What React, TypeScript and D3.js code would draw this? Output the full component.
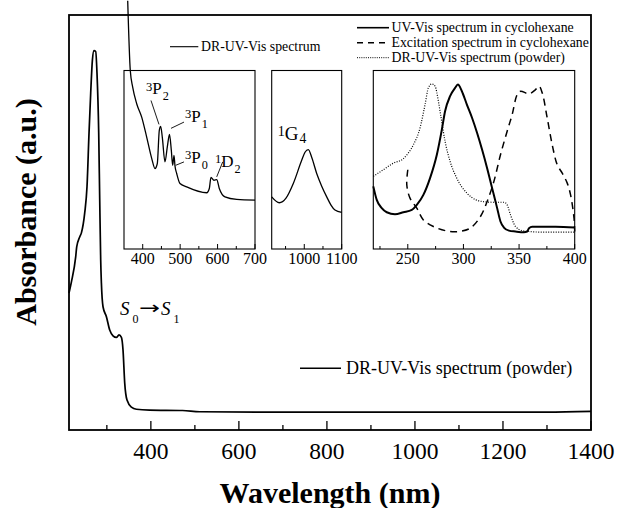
import React from 'react';
import * as d3 from 'd3';

// main curve: DR-UV-Vis spectrum of the powder, 214-1400 nm
const powderWl = [214, 219.5, 229.2, 231.5, 238.3, 242.2, 249.7, 254.9, 259.5, 263.3, 267.2, 270.8, 274.7, 277.6, 281.5, 283.8, 286, 287.6, 291.3, 299, 306.5, 314, 321.7, 327.6, 333.1, 336.7, 340.6, 345.8, 355.8, 367.2, 397, 472, 511, 700, 1000, 1300, 1400];
const powderAbs = [0.330, 0.357, 0.417, 0.441, 0.465, 0.475, 0.523, 0.586, 0.716, 0.812, 0.892, 0.914, 0.912, 0.860, 0.716, 0.554, 0.410, 0.354, 0.297, 0.273, 0.241, 0.227, 0.223, 0.229, 0.223, 0.193, 0.113, 0.072, 0.055, 0.050, 0.048, 0.047, 0.044, 0.043, 0.043, 0.043, 0.045];

// inset 1: visible region (f-f bands)
const visWl = [359.9, 366.8, 373.2, 383.9, 397.3, 410.6, 424, 432.8, 439, 444.3, 448, 452.3, 459.5, 465.7, 471.6, 476.4, 480.1, 483.6, 486.3, 490.8, 499.6, 517.5, 571, 577.9, 582.4, 590.4, 597.7, 604.6, 619.8, 651.1, 700];
const visAbs = [1.391, 1.0, 0.907, 0.814, 0.739, 0.627, 0.508, 0.451, 0.479, 0.665, 0.687, 0.627, 0.488, 0.572, 0.642, 0.553, 0.469, 0.525, 0.464, 0.423, 0.367, 0.348, 0.315, 0.339, 0.401, 0.385, 0.389, 0.339, 0.292, 0.278, 0.274];

// inset 2: near IR (1G4)
const nirWl = [913, 933.3, 951.2, 970.7, 993.1, 1002, 1010.8, 1020.7, 1033.2, 1046.6, 1060, 1071.4, 1082, 1100];
const nirAbs = [0.292, 0.259, 0.285, 0.367, 0.497, 0.542, 0.557, 0.508, 0.423, 0.352, 0.292, 0.246, 0.218, 0.205];

// inset 3: UV region, three spectra
const uvWl = [219, 222.1, 226.6, 231.1, 238.5, 246, 253.6, 258.1, 264, 270, 276.1, 280.6, 283.5, 288, 292.5, 295, 298.6, 303.1, 307.8, 312.3, 316.8, 321.3, 325.8, 330.3, 333.3, 336.4, 340.9, 346.8, 354.4, 357.3, 358.9, 361.8, 382.8, 400];
const uvAbs = [0.351, 0.275, 0.229, 0.206, 0.195, 0.206, 0.219, 0.247, 0.303, 0.397, 0.528, 0.669, 0.772, 0.856, 0.903, 0.921, 0.884, 0.809, 0.734, 0.650, 0.556, 0.453, 0.341, 0.229, 0.154, 0.120, 0.103, 0.098, 0.094, 0.098, 0.116, 0.124, 0.124, 0.120];

const excWl = [250, 249.1, 252, 258.1, 264, 273, 285.1, 295.5, 306, 315.3, 321.3, 327.4, 333.3, 339.3, 343.8, 348.3, 351.3, 358.9, 364.8, 367.9, 370.8, 375.3, 379.8, 384.3, 388.8, 393.3, 396.3, 399.4, 400];
const excInt = [0.444, 0.360, 0.285, 0.229, 0.163, 0.126, 0.101, 0.098, 0.116, 0.182, 0.266, 0.379, 0.528, 0.660, 0.753, 0.865, 0.884, 0.869, 0.893, 0.912, 0.875, 0.734, 0.584, 0.472, 0.425, 0.369, 0.303, 0.172, 0.098];

const drWl = [219, 228, 237, 246, 250.5, 255, 261, 265.5, 268.5, 271.6, 274.5, 277.5, 279.7, 283.5, 288, 294, 303.1, 311.4, 316.8, 325.8, 336.4, 339.3, 342.3, 346.8, 352.8, 358.9, 373.8, 400];
const drAbs = [0.407, 0.444, 0.481, 0.506, 0.538, 0.584, 0.678, 0.809, 0.903, 0.925, 0.912, 0.828, 0.744, 0.603, 0.491, 0.397, 0.313, 0.275, 0.266, 0.262, 0.262, 0.247, 0.191, 0.126, 0.103, 0.098, 0.094, 0.094];

const mainMajor = [400, 600, 800, 1000, 1200, 1400];
const mainMinor = [300, 500, 700, 900, 1100, 1300];

const legendItems = [
  { label: 'UV-Vis spectrum in cyclohexane', dash: 'none', width: 1.6 },
  { label: 'Excitation spectrum in cyclohexane', dash: '6,5', width: 1.6 },
  { label: 'DR-UV-Vis spectrum (powder)', dash: '1,1.2', width: 1 },
];

const FONT = "'Liberation Serif', 'Times New Roman', serif";

type Pt = [number, number];
const zip = (a: number[], b: number[]): Pt[] => a.map((v, i) => [v, b[i]]);

interface InsetProps {
  x0: number; x1: number; y0: number; y1: number;
  domain: [number, number];
  major: number[]; minor: number[];
  series: { pts: Pt[]; dash: string; width: number; curve: d3.CurveFactory }[];
  children?: (x: d3.ScaleLinear<number, number>, y: d3.ScaleLinear<number, number>) => React.ReactNode;
}

const Inset: React.FC<InsetProps> = ({ x0, x1, y0, y1, domain, major, minor, series, children }) => {
  const x = d3.scaleLinear().domain(domain).range([x0, x1]);
  const y = d3.scaleLinear().domain([0, 1]).range([y1, y0]);
  return (
    <g>
      <rect x={x0} y={y0} width={x1 - x0} height={y1 - y0} fill="none" stroke="#000" strokeWidth={1.1} />
      {minor.map(t => <line key={'m' + t} x1={x(t)} x2={x(t)} y1={y1} y2={y1 - 3} stroke="#000" strokeWidth={1} />)}
      {major.map(t => (
        <g key={t}>
          <line x1={x(t)} x2={x(t)} y1={y1} y2={y1 - 5} stroke="#000" strokeWidth={1} />
          <text x={x(t)} y={y1 + 14.5} textAnchor="middle" fontSize={16} fontFamily={FONT}>{t}</text>
        </g>
      ))}
      {series.map((s, i) => {
        const line = d3.line<Pt>().x(d => x(d[0])).y(d => y(d[1])).curve(s.curve);
        return <path key={i} d={line(s.pts) || ''} fill="none" stroke="#000" strokeWidth={s.width}
          strokeDasharray={s.dash} strokeLinejoin="round" />;
      })}
      {children && children(x, y)}
    </g>
  );
};

// term symbol like ³P₂
const Term: React.FC<{ x: number; y: number; sup: string; base: string; sub: string; size: number; subDy: number }> =
  ({ x, y, sup, base, sub, size, subDy }) => (
    <text x={x} y={y} fontFamily={FONT} fontSize={size}>
      <tspan fontSize={size * 0.74} dy={-3.5}>{sup}</tspan>
      <tspan dy={3.5}>{base}</tspan>
      <tspan fontSize={size * 0.72} dy={subDy} dx={1}>{sub}</tspan>
    </text>
  );

export default function App() {
  const W = 618, H = 508;
  const fr = { left: 69, right: 591, top: 15, bottom: 430 };
  const x = d3.scaleLinear().domain([214, 1400]).range([fr.left, fr.right]);
  const y = d3.scaleLinear().domain([0, 1]).range([fr.bottom, fr.top]);
  const mainLine = d3.line<Pt>().x(d => x(d[0])).y(d => y(d[1])).curve(d3.curveMonotoneX);

  const leader = (sx: d3.ScaleLinear<number, number>, sy: d3.ScaleLinear<number, number>, a: Pt, b: Pt, k: string) =>
    <line key={k} x1={sx(a[0])} y1={sy(a[1])} x2={sx(b[0])} y2={sy(b[1])} stroke="#000" strokeWidth={0.9} />;

  // S0 -> S1 label anchor (data coords)
  const sx0 = x(329.9), sy0 = y(0.277);

  return (
    <svg width={W} height={H} style={{ position: 'absolute', left: 0, top: 0, background: '#fff' }}>
      <rect width={W} height={H} fill="#fff" />
      {/* main frame */}
      <rect x={fr.left} y={fr.top} width={fr.right - fr.left} height={fr.bottom - fr.top}
        fill="none" stroke="#000" strokeWidth={1.8} />
      {mainMinor.map(t => <line key={'m' + t} x1={x(t)} x2={x(t)} y1={fr.bottom} y2={fr.bottom - 5} stroke="#000" strokeWidth={1.3} />)}
      {mainMajor.map(t => (
        <g key={t}>
          <line x1={x(t)} x2={x(t)} y1={fr.bottom} y2={fr.bottom - 9} stroke="#000" strokeWidth={1.3} />
          <text x={x(t)} y={459} textAnchor="middle" fontSize={23.5} fontFamily={FONT}>{t}</text>
        </g>
      ))}
      <path d={mainLine(zip(powderWl, powderAbs)) || ''} fill="none" stroke="#000" strokeWidth={1.7} strokeLinejoin="round" />

      <text x={330} y={503} textAnchor="middle" fontSize={30} fontWeight="bold" fontFamily={FONT}>Wavelength (nm)</text>
      <text transform="translate(36,212) rotate(-90)" textAnchor="middle" fontSize={30} fontWeight="bold" fontFamily={FONT}>Absorbance (a.u.)</text>

      {/* S0 -> S1 */}
      <text x={sx0} y={sy0} fontFamily={FONT} fontSize={19} fontStyle="italic">S</text>
      <text x={sx0 + 12.5} y={sy0 + 8} fontFamily={FONT} fontSize={12}>0</text>
      <text x={sx0 + 19} y={sy0 - 1} fontFamily="'DejaVu Sans', sans-serif" fontSize={18} textLength={21} lengthAdjust="spacingAndGlyphs">→</text>
      <text x={sx0 + 41} y={sy0} fontFamily={FONT} fontSize={19} fontStyle="italic">S</text>
      <text x={sx0 + 53.5} y={sy0 + 8} fontFamily={FONT} fontSize={12}>1</text>

      {/* bottom legend */}
      <line x1={300} x2={341} y1={368.3} y2={368.3} stroke="#000" strokeWidth={1.6} />
      <text x={346} y={374} fontSize={18} fontFamily={FONT}>DR-UV-Vis spectrum (powder)</text>

      {/* top-right legend */}
      {legendItems.map((d, i) => (
        <g key={d.label}>
          <line x1={357} x2={389} y1={27.7 + i * 15} y2={27.7 + i * 15} stroke="#000" strokeWidth={d.width} strokeDasharray={d.dash} />
          <text x={391.5} y={32.3 + i * 15} fontSize={13.8} fontFamily={FONT}>{d.label}</text>
        </g>
      ))}

      {/* inset 1 legend */}
      <line x1={170} x2={198.3} y1={46.7} y2={46.7} stroke="#000" strokeWidth={1.1} />
      <text x={201} y={51.2} fontSize={13.8} fontFamily={FONT}>DR-UV-Vis spectrum</text>

      <Inset x0={124} x1={255} y0={70.5} y1={249} domain={[350, 700]} major={[400, 500, 600, 700]} minor={[450, 550, 650]}
        series={[{ pts: zip(visWl, visAbs), dash: 'none', width: 1.3, curve: d3.curveMonotoneX }]}>
        {(sx, sy) => (
          <g>
            <Term x={sx(408.8)} y={sy(0.868)} sup="3" base="P" sub="2" size={17} subDy={6} />
            <Term x={sx(513)} y={sy(0.713)} sup="3" base="P" sub="1" size={17} subDy={6} />
            <Term x={sx(513)} y={sy(0.482)} sup="3" base="P" sub="0" size={17} subDy={6} />
            <Term x={sx(593)} y={sy(0.461)} sup="1" base="D" sub="2" size={17} subDy={6} />
            {leader(sx, sy, [422.1, 0.832], [443.5, 0.698], 'a')}
            {leader(sx, sy, [510.3, 0.711], [475.6, 0.676], 'b')}
            {leader(sx, sy, [510.3, 0.488], [488.1, 0.469], 'c')}
            {leader(sx, sy, [613.7, 0.488], [597.7, 0.404], 'd')}
          </g>
        )}
      </Inset>

      <Inset x0={271.7} x1={341.7} y0={70.5} y1={249} domain={[913, 1100]} major={[1000, 1100]} minor={[950, 1050]}
        series={[{ pts: zip(nirWl, nirAbs), dash: 'none', width: 1.3, curve: d3.curveMonotoneX }]}>
        {(sx, sy) => <Term x={sx(929)} y={sy(0.611)} sup="1" base="G" sub="4" size={19} subDy={3} />}
      </Inset>

      <Inset x0={373.3} x1={574.7} y0={70.5} y1={249} domain={[219, 400]} major={[250, 300, 350, 400]} minor={[225, 275, 325, 375]}
        series={[
          { pts: zip(uvWl, uvAbs), dash: 'none', width: 2, curve: d3.curveMonotoneX },
          { pts: zip(excWl, excInt), dash: '7,5', width: 1.5, curve: d3.curveCatmullRom },
          { pts: zip(drWl, drAbs), dash: '1,1.5', width: 1.2, curve: d3.curveMonotoneX },
        ]} />
    </svg>
  );
}
